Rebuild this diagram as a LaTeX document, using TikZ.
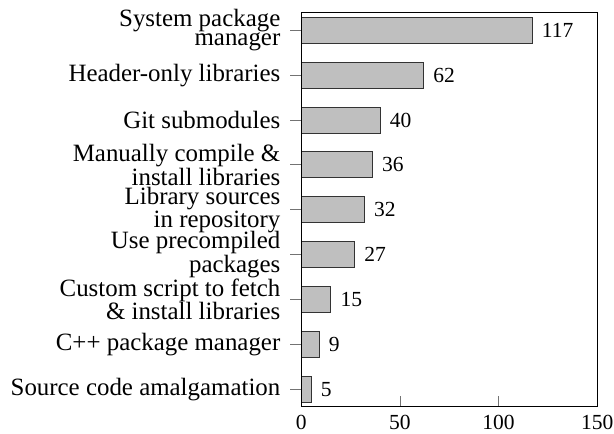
\documentclass[tikz,border=0pt]{standalone}
\usepackage{fontspec}
\setmainfont{Liberation Serif}
\begin{document}
\begin{tikzpicture}[x=1pt,y=-1pt,
  barbox/.style={draw=black!80,fill=black!25,line width=0.8pt},
  ylab/.style={anchor=east,inner sep=0pt,align=right,font={\fontsize{24.9}{0}\selectfont}},
  vlab/.style={anchor=west,inner sep=0pt,font={\fontsize{21.5}{26}\selectfont}},
  xlab/.style={anchor=base,inner sep=0pt,font={\fontsize{21.5}{26}\selectfont}},
  tickline/.style={draw=black!55,line width=0.8pt},
  axisline/.style={draw=black,line width=0.9pt}]
\useasboundingbox (0,0) rectangle (614,434);
\def\xo{301.3}
\def\sc{1.973}
\foreach \lab/\v [count=\i from 0] in {
  {System package\\manager}/117,
  {Header-only libraries}/62,
  {Git submodules}/40,
  {Manually compile \&\\install libraries}/36,
  {Library sources\\in repository}/32,
  {Use precompiled\\packages}/27,
  {Custom script to fetch\\\& install libraries}/15,
  {C++ package manager}/9,
  {Source code amalgamation}/5}{
  \pgfmathsetmacro{\yc}{30.3+44.85*\i}
  \pgfmathsetmacro{\xe}{\xo+\sc*\v}
  \draw[tickline] (290,\yc) -- (\xo,\yc);
  \path[barbox] (\xo,\yc-13) rectangle (\xe,\yc+13);
  \coordinate (e\i) at (\xe,\yc);
  \node[vlab] (v\i) at ([xshift=9.5pt]e\i) {\v};
  \node[ylab] (l\i) at (280.5,\yc) {\lab};
}
\foreach \t in {50,100} {
  \pgfmathsetmacro{\xt}{\xo+\sc*\t}
  \draw[tickline] (\xt,406) -- (\xt,396);
}
\draw[axisline] (\xo,12.7) rectangle (597.6,406);
\foreach \t/\nm in {0/a,50/b,100/c,150/d} {
  \pgfmathsetmacro{\xt}{\xo+\sc*\t}
  \node[xlab] (x\nm) at (\xt,429.5) {\t};
}
\end{tikzpicture}
\end{document}
